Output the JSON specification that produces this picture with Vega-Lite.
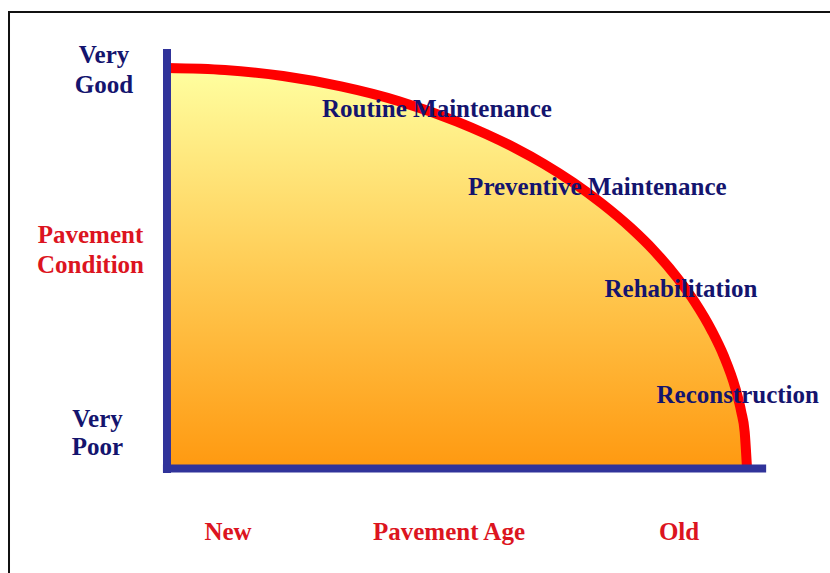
{
  "$schema": "https://vega.github.io/schema/vega-lite/v6.json",
  "width": 830,
  "height": 573,
  "autosize": {"type": "none"},
  "padding": 0,
  "background": "#ffffff",
  "config": {"view": {"stroke": null}},
  "datasets": {
    "curve": [
      {"age": 0, "cond": 100}, {"age": 10, "cond": 99.5}, {"age": 20, "cond": 98},
      {"age": 30, "cond": 95.4}, {"age": 40, "cond": 91.7}, {"age": 50, "cond": 86.6},
      {"age": 55, "cond": 83.5}, {"age": 60, "cond": 80}, {"age": 65, "cond": 76},
      {"age": 70, "cond": 71.4}, {"age": 75, "cond": 66.1}, {"age": 80, "cond": 60},
      {"age": 84, "cond": 54.3}, {"age": 88, "cond": 47.5}, {"age": 91, "cond": 41.5},
      {"age": 94, "cond": 34.1}, {"age": 96, "cond": 28}, {"age": 98, "cond": 19.9},
      {"age": 99, "cond": 14.1}, {"age": 99.6, "cond": 9}, {"age": 100, "cond": 0}
    ],
    "axes": [
      {"x": 0, "x2": 0, "y": -1.25, "y2": 104.75},
      {"x": -0.7, "x2": 103.3, "y": -0.1, "y2": -0.1}
    ],
    "frame": [
      {"x": -27.24, "x2": 130, "y": 114, "y2": -40}
    ],
    "labels": [
      {"age": 46.55, "cond": 87.75, "text": "Routine Maintenance", "kind": "stage"},
      {"age": 74.2, "cond": 68.25, "text": "Preventive Maintenance", "kind": "stage"},
      {"age": 88.6, "cond": 42.75, "text": "Rehabilitation", "kind": "stage"},
      {"age": 98.4, "cond": 16.25, "text": "Reconstruction", "kind": "stage"},
      {"age": -10.86, "cond": 101.25, "text": "Very", "kind": "stage"},
      {"age": -10.86, "cond": 93.75, "text": "Good", "kind": "stage"},
      {"age": -11.98, "cond": 10.25, "text": "Very", "kind": "stage"},
      {"age": -11.98, "cond": 3.25, "text": "Poor", "kind": "stage"},
      {"age": -13.19, "cond": 56.25, "text": "Pavement", "kind": "title"},
      {"age": -13.19, "cond": 48.75, "text": "Condition", "kind": "title"},
      {"age": 10.52, "cond": -18, "text": "New", "kind": "title"},
      {"age": 48.62, "cond": -18, "text": "Pavement Age", "kind": "title"},
      {"age": 88.28, "cond": -18, "text": "Old", "kind": "title"}
    ]
  },
  "resolve": {"scale": {"x": "shared", "y": "shared"}},
  "layer": [
    {
      "data": {"name": "frame"},
      "mark": {"type": "rect", "fill": null, "stroke": "#111111", "strokeWidth": 2},
      "encoding": {
        "x": {"field": "x", "type": "quantitative", "scale": {"domain": [-28.793, 114.31], "nice": false, "zero": false}, "axis": null},
        "x2": {"field": "x2"},
        "y": {"field": "y", "type": "quantitative", "scale": {"domain": [-26.25, 117], "nice": false, "zero": false}, "axis": null},
        "y2": {"field": "y2"}
      }
    },
    {
      "data": {"name": "curve"},
      "mark": {
        "type": "area",
        "interpolate": "monotone",
        "color": {
          "gradient": "linear", "x1": 0, "y1": 0, "x2": 0, "y2": 1,
          "stops": [
            {"offset": 0, "color": "#ffffa0"},
            {"offset": 0.5, "color": "#ffcc55"},
            {"offset": 1, "color": "#ff9910"}
          ]
        }
      },
      "encoding": {
        "x": {"field": "age", "type": "quantitative"},
        "y": {"field": "cond", "type": "quantitative"},
        "y2": {"datum": 0}
      }
    },
    {
      "data": {"name": "curve"},
      "mark": {"type": "line", "interpolate": "monotone", "color": "#ff0000", "strokeWidth": 10, "strokeCap": "butt"},
      "encoding": {
        "x": {"field": "age", "type": "quantitative"},
        "y": {"field": "cond", "type": "quantitative"}
      }
    },
    {
      "data": {"name": "axes"},
      "mark": {"type": "rule", "color": "#30339a", "strokeWidth": 8, "strokeCap": "butt"},
      "encoding": {
        "x": {"field": "x", "type": "quantitative"},
        "x2": {"field": "x2"},
        "y": {"field": "y", "type": "quantitative"},
        "y2": {"field": "y2"}
      }
    },
    {
      "data": {"name": "labels"},
      "mark": {"type": "text", "font": "Liberation Serif", "fontWeight": "bold", "fontSize": 25, "align": "center", "baseline": "alphabetic"},
      "encoding": {
        "x": {"field": "age", "type": "quantitative"},
        "y": {"field": "cond", "type": "quantitative"},
        "text": {"field": "text"},
        "color": {"field": "kind", "type": "nominal", "scale": {"domain": ["stage", "title"], "range": ["#14146e", "#dc1420"]}, "legend": null}
      }
    }
  ]
}
